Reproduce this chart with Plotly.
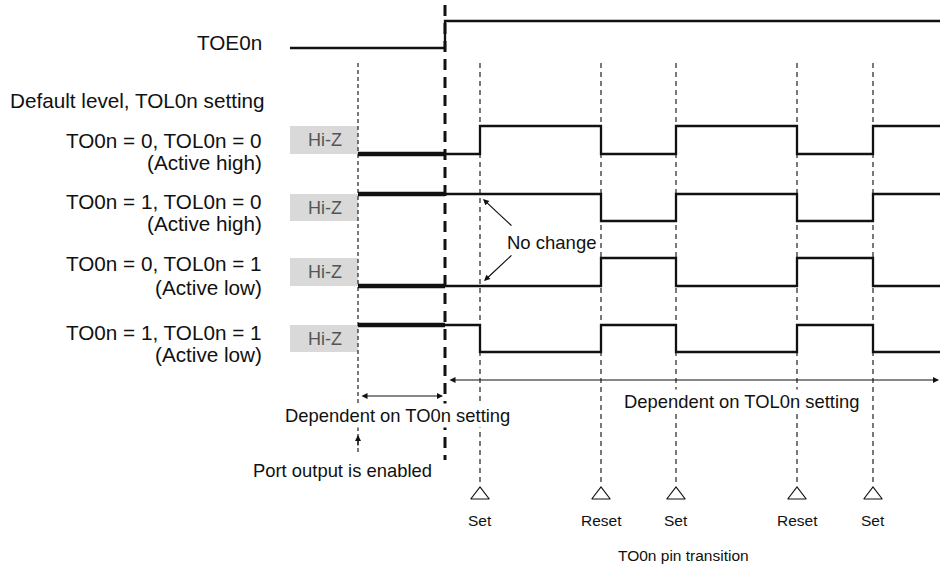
import plotly.graph_objects as go

# ---------------- data ----------------
event_x = [480, 601, 676, 797, 873]           # Set / Reset instants
event_labels = ["Set", "Reset", "Set", "Reset", "Set"]
signal_start_x = 290
port_enable_x = 358
toe_rise_x = 445
signal_end_x = 940

toe_levels = [0, 1]                            # before / after rise

row_labels = ["TO0n = 0, TOL0n = 0", "TO0n = 1, TOL0n = 0",
              "TO0n = 0, TOL0n = 1", "TO0n = 1, TOL0n = 1"]
row_sublabels = ["(Active high)", "(Active high)", "(Active low)", "(Active low)"]
default_levels = [0, 1, 0, 1]
levels_after_events = [
    [1, 0, 1, 0, 1],
    [1, 0, 1, 0, 1],
    [0, 1, 0, 1, 0],
    [0, 1, 0, 1, 0],
]

# ---------------- layout geometry (pixel-like units) ----------------
toe_y = {0: 48, 1: 21}
row_high_y = [126, 194, 258, 325]
row_low_y = [154, 221, 286, 352]
row_label_y = [140, 201, 263, 332]
row_sub_y = [162, 223, 287, 354]

FONT = "Liberation Sans, Arial, Helvetica, sans-serif"
BLACK = "#111111"
LBL = 20.7

fig = go.Figure()
shapes = []
ann = []

# TOE0n waveform
fig.add_trace(go.Scatter(
    x=[signal_start_x, toe_rise_x, signal_end_x],
    y=[toe_y[toe_levels[0]], toe_y[toe_levels[1]], toe_y[toe_levels[1]]],
    mode="lines", line=dict(color=BLACK, width=2.3, shape="hv"),
    hoverinfo="skip"))

# dotted port-enable line
fig.add_trace(go.Scatter(
    x=[port_enable_x, port_enable_x], y=[63, 452], mode="lines",
    line=dict(color="#222222", width=1.2, dash="4px,3px"), hoverinfo="skip"))

# thin dashed event lines
vx, vy = [], []
for ex in event_x:
    vx += [ex, ex, None]
    vy += [63, 485, None]
fig.add_trace(go.Scatter(x=vx, y=vy, mode="lines",
                         line=dict(color="#222222", width=1.2, dash="5px,4px"),
                         hoverinfo="skip"))

# thick dashed TOE rise line
fig.add_trace(go.Scatter(
    x=[toe_rise_x, toe_rise_x], y=[5, 460], mode="lines",
    line=dict(color=BLACK, width=3, dash="11px,7px"), hoverinfo="skip"))

# rows
for i in range(4):
    hi, lo = row_high_y[i], row_low_y[i]
    lv = lambda v: hi if v == 1 else lo
    # Hi-Z box
    shapes.append(dict(type="rect", xref="x", yref="y", x0=signal_start_x, x1=port_enable_x,
                       y0=hi, y1=lo, fillcolor="#d9d9d9", line=dict(width=0), layer="below"))
    ann.append(dict(x=(signal_start_x + port_enable_x) / 2 + 1, y=(hi + lo) / 2, text="Hi-Z",
                    showarrow=False, font=dict(family=FONT, size=18, color="#555555")))
    # thick default-level segment
    fig.add_trace(go.Scatter(
        x=[port_enable_x, toe_rise_x], y=[lv(default_levels[i])] * 2, mode="lines",
        line=dict(color=BLACK, width=4.5), hoverinfo="skip"))
    # waveform after TOE rise
    xs = [toe_rise_x] + event_x + [signal_end_x]
    ys = [lv(default_levels[i])] + [lv(v) for v in levels_after_events[i]] + [lv(levels_after_events[i][-1])]
    fig.add_trace(go.Scatter(x=xs, y=ys, mode="lines",
                             line=dict(color=BLACK, width=2.3, shape="hv"),
                             hoverinfo="skip"))
    ann.append(dict(x=264, y=row_label_y[i], text=row_labels[i], xanchor="right",
                    showarrow=False, font=dict(family=FONT, size=LBL, color=BLACK)))
    ann.append(dict(x=264, y=row_sub_y[i], text=row_sublabels[i], xanchor="right",
                    showarrow=False, font=dict(family=FONT, size=LBL, color=BLACK)))

# triangles
fig.add_trace(go.Scatter(
    x=event_x, y=[495] * len(event_x), mode="markers",
    marker=dict(symbol="triangle-up-open", size=16, color=BLACK, line=dict(width=1.2, color=BLACK)),
    hoverinfo="skip"))

for ex, lab in zip(event_x, event_labels):
    ann.append(dict(x=ex, y=520, text=lab, showarrow=False,
                    font=dict(family=FONT, size=15.5, color=BLACK)))

ann.append(dict(x=683, y=555, text="TO0n pin transition", showarrow=False,
                font=dict(family=FONT, size=15.5, color=BLACK)))

ann.append(dict(x=264, y=42, text="TOE0n", xanchor="right", showarrow=False,
                font=dict(family=FONT, size=LBL, color=BLACK)))
ann.append(dict(x=267, y=100, text="Default level, TOL0n setting", xanchor="right",
                showarrow=False, font=dict(family=FONT, size=LBL, color=BLACK)))

# "No change" with arrows
ann.append(dict(x=551, y=242, text="No change", showarrow=False, bgcolor="white",
                font=dict(family=FONT, size=18.5, color=BLACK)))
for (hx, hy, tx, ty) in [(483, 199, 513, 227), (484, 281, 513, 254)]:
    ann.append(dict(x=hx, y=hy, ax=tx, ay=ty, xref="x", yref="y", axref="x", ayref="y",
                    text="", showarrow=True, arrowhead=2, arrowsize=1, arrowwidth=1.2,
                    arrowcolor=BLACK, standoff=0, startstandoff=0))

# dependency double arrows
ann.append(dict(x=443, y=396, ax=360, ay=396, xref="x", yref="y", axref="x", ayref="y",
                text="", showarrow=True, arrowhead=2, startarrowhead=2, arrowside="end+start",
                arrowsize=1, arrowwidth=1.2, arrowcolor=BLACK, standoff=0, startstandoff=0))
ann.append(dict(x=939, y=380, ax=448, ay=380, xref="x", yref="y", axref="x", ayref="y",
                text="", showarrow=True, arrowhead=2, startarrowhead=2, arrowside="end+start",
                arrowsize=1, arrowwidth=1.2, arrowcolor=BLACK, standoff=0, startstandoff=0))
ann.append(dict(x=397, y=415, text="Dependent on TO0n setting", showarrow=False, bgcolor="white",
                font=dict(family=FONT, size=18.4, color=BLACK)))
ann.append(dict(x=742, y=401, text="Dependent on TOL0n setting", showarrow=False, bgcolor="white",
                font=dict(family=FONT, size=18.4, color=BLACK)))

# port output enabled arrow
ann.append(dict(x=port_enable_x, y=435, ax=port_enable_x, ay=447, xref="x", yref="y",
                axref="x", ayref="y", text="", showarrow=True, arrowhead=2, arrowsize=1,
                arrowwidth=1.2, arrowcolor=BLACK, standoff=0))
ann.append(dict(x=342, y=470, text="Port output is enabled", showarrow=False,
                font=dict(family=FONT, size=18.4, color=BLACK)))

fig.update_layout(
    width=940, height=566, autosize=False,
    margin=dict(l=0, r=0, t=0, b=0),
    paper_bgcolor="white", plot_bgcolor="white",
    showlegend=False, hovermode=False,
    xaxis=dict(range=[0, 940], visible=False, fixedrange=True),
    yaxis=dict(range=[566, 0], visible=False, fixedrange=True),
    shapes=shapes, annotations=ann,
)

fig.write_html("out.html", config={"displayModeBar": False, "staticPlot": True},
               post_script="document.body.style.margin='0';document.body.style.overflow='hidden';")
